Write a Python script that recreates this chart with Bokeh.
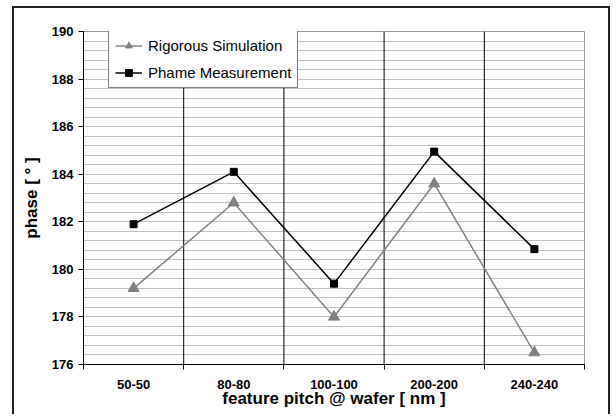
from bokeh.plotting import figure
from bokeh.models import FixedTicker, Range1d, Legend, LegendItem, Span
from bokeh.embed import file_html
from bokeh.resources import INLINE

categories = ["50-50", "80-80", "100-100", "200-200", "240-240"]
simulation = [179.2, 182.8, 178.0, 183.6, 176.5]
measurement = [181.9, 184.1, 179.4, 184.95, 180.85]

xs = [i + 0.5 for i in range(len(categories))]

p = figure(width=598, height=408, output_backend="svg", toolbar_location=None,
           x_range=Range1d(0, len(categories)), y_range=Range1d(176, 190),
           min_border_left=69, min_border_right=28, min_border_top=23, min_border_bottom=52,
           styles={"margin-left": "12px", "margin-top": "6px",
                   "border-left": "2px solid #222", "border-top": "2px solid #222",
                   "border-right": "2px solid #222"})
p.background_fill_color = "white"
p.border_fill_color = "white"
p.outline_line_color = "#999999"
p.outline_line_width = 1

font = "Liberation Sans"

yt = FixedTicker(ticks=list(range(176, 191, 2)),
                 minor_ticks=[round(176 + 0.4 * i, 2) for i in range(36)])
p.yaxis.ticker = yt
p.ygrid.ticker = yt
p.ygrid.grid_line_color = "#c0c0c0"
p.ygrid.minor_grid_line_color = "#c0c0c0"
p.ygrid.grid_line_width = 1
p.yaxis.minor_tick_line_color = None
p.yaxis.minor_tick_in = 0
p.yaxis.minor_tick_out = 0
p.yaxis.major_tick_in = 0
p.yaxis.major_tick_out = 5
p.yaxis.axis_line_color = "black"
p.yaxis.major_tick_line_color = "black"
p.yaxis.major_label_text_font = font
p.yaxis.major_label_text_font_style = "bold"
p.yaxis.major_label_text_font_size = "13px"
p.yaxis.major_label_text_color = "black"
p.yaxis.major_label_standoff = 5
p.yaxis.axis_label = "phase [ ° ]"
p.yaxis.axis_label_text_font = font
p.yaxis.axis_label_text_font_style = "bold"
p.yaxis.axis_label_text_font_size = "17px"
p.yaxis.axis_label_text_color = "black"
p.yaxis.axis_label_standoff = 8

xt = FixedTicker(ticks=xs, minor_ticks=list(range(len(categories) + 1)))
p.xaxis.ticker = xt
p.xaxis.major_label_overrides = {x: c for x, c in zip(xs, categories)}
p.xaxis.major_tick_line_color = None
p.xaxis.major_tick_in = 0
p.xaxis.major_tick_out = 0
p.xaxis.minor_tick_in = 0
p.xaxis.minor_tick_out = 5
p.xaxis.minor_tick_line_color = "black"
p.xaxis.axis_line_color = "black"
p.xaxis.major_label_text_font = font
p.xaxis.major_label_text_font_style = "bold"
p.xaxis.major_label_text_font_size = "13px"
p.xaxis.major_label_text_color = "black"
p.xaxis.major_label_standoff = 10
p.xaxis.axis_label = "feature pitch @ wafer [ nm ]"
p.xaxis.axis_label_text_font = font
p.xaxis.axis_label_text_font_style = "bold"
p.xaxis.axis_label_text_font_size = "17px"
p.xaxis.axis_label_text_color = "black"
p.xaxis.axis_label_standoff = -3

p.xgrid.grid_line_color = None
for b in range(1, len(categories)):
    p.add_layout(Span(location=b, dimension="height", line_color="black", line_width=1, level="underlay"))

l1 = p.line(xs, simulation, line_color="#808080", line_width=1.5)
m1 = p.scatter(xs, simulation, marker="triangle", size=11, fill_color="#808080", line_color="#808080")
l2 = p.line(xs, measurement, line_color="black", line_width=1.5)
m2 = p.scatter(xs, measurement, marker="square", size=7, fill_color="black", line_color="black")

legend = Legend(items=[LegendItem(label="Rigorous Simulation", renderers=[l1, m1]),
                       LegendItem(label="Phame Measurement", renderers=[l2, m2])],
                location=(25, 276))
legend.label_text_font = font
legend.label_text_font_size = "15px"
legend.label_text_color = "black"
legend.border_line_color = "black"
legend.border_line_width = 1
legend.background_fill_color = "white"
legend.background_fill_alpha = 1
legend.glyph_width = 27
legend.glyph_height = 17
legend.label_height = 17
legend.label_standoff = 6
legend.spacing = 10
legend.padding = 6
legend.margin = 0
p.add_layout(legend)

open("out.html", "w").write(file_html(p, INLINE))
